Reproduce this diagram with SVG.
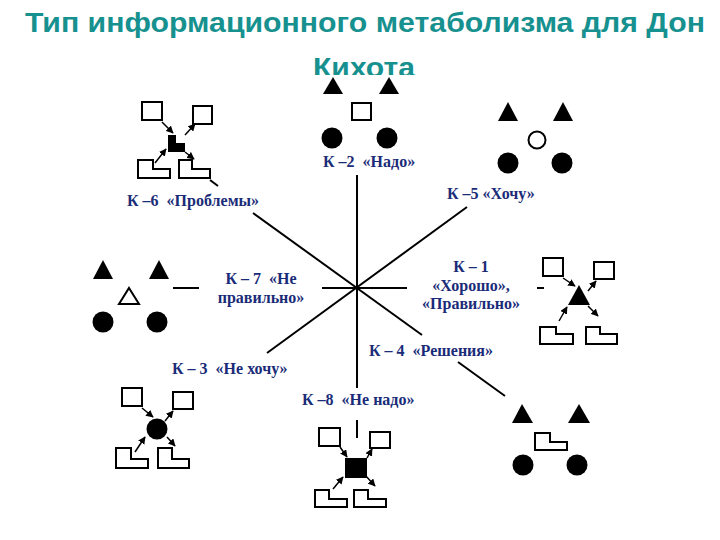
<svg xmlns="http://www.w3.org/2000/svg" width="720" height="540" viewBox="0 0 720 540">
<style>
.title{font-family:"Liberation Sans",Arial,sans-serif;font-weight:bold;font-size:28px;fill:#17918f}
.lbl{font-family:"Liberation Serif","Times New Roman",serif;font-weight:bold;font-size:16px;fill:#1a2c78;white-space:pre}
.ln{stroke:#000;stroke-width:2;fill:none}
.arr{stroke:#000;stroke-width:1.5;fill:none;marker-end:url(#ah)}
.o{fill:#fff;stroke:#000;stroke-width:2}
.f{fill:#000}
</style>
<defs>
<marker id="ah" viewBox="0 0 10 10" refX="9" refY="5" markerWidth="5" markerHeight="5" orient="auto"><path d="M0,0 L10,5 L0,10 z" fill="#000"/></marker>
<clipPath id="cut"><rect x="0" y="0" width="720" height="75"/></clipPath>
</defs>
<rect width="720" height="540" fill="#fff"/>
<g id="title">
<text class="title" x="365" y="32" text-anchor="middle" textLength="680" lengthAdjust="spacingAndGlyphs">Тип информационного метаболизма для Дон</text>
<text class="title" x="364" y="77" text-anchor="middle" textLength="102" lengthAdjust="spacingAndGlyphs" clip-path="url(#cut)">Кихота</text>
</g>
<g id="connectors">
<line class="ln" x1="357" y1="175" x2="357" y2="388"/>
<line class="ln" x1="322" y1="288" x2="407" y2="288"/>
<line class="ln" x1="267" y1="353" x2="467" y2="207"/>
<line class="ln" x1="253" y1="213" x2="422" y2="335"/>
<line class="ln" x1="458" y1="362" x2="505" y2="396"/>
<line class="ln" x1="210" y1="180" x2="218" y2="186"/>
<line class="ln" x1="173" y1="288" x2="199" y2="288"/>
<line class="ln" x1="537" y1="288" x2="544" y2="288"/>
<line class="ln" x1="357" y1="420" x2="357" y2="438"/>
</g>
<g id="labels">
<text class="lbl" x="323" y="167">К –2  «Надо»</text>
<text class="lbl" x="127" y="206">К –6  «Проблемы»</text>
<text class="lbl" x="447" y="199">К –5 «Хочу»</text>
<text class="lbl" x="261" y="284" text-anchor="middle">К – 7  «Не</text>
<text class="lbl" x="261" y="303" text-anchor="middle">правильно»</text>
<text class="lbl" x="471" y="272" text-anchor="middle">К – 1</text>
<text class="lbl" x="471" y="291" text-anchor="middle">«Хорошо»,</text>
<text class="lbl" x="471" y="309" text-anchor="middle">«Правильно»</text>
<text class="lbl" x="369" y="356">К – 4  «Решения»</text>
<text class="lbl" x="172" y="374">К – 3  «Не хочу»</text>
<text class="lbl" x="302" y="405">К –8  «Не надо»</text>
</g>
<g id="k6">
<rect class="o" x="142" y="102" width="20" height="18"/>
<rect class="o" x="193" y="106" width="19" height="18"/>
<path class="f" d="M168,135 H176 V143 H185 V152 H168 Z"/>
<path class="o" d="M138,160 H153 V169 H170 V178 H138 Z"/>
<path class="o" d="M179,160 H192 V169 H210 V178 H179 Z"/>
<line class="arr" x1="162" y1="122" x2="173" y2="133"/>
<line class="arr" x1="185" y1="135" x2="195" y2="124"/>
<line class="arr" x1="155" y1="163" x2="166" y2="149"/>
<line class="arr" x1="185" y1="152" x2="194" y2="159"/>
</g>
<g id="k2">
<path class="f" d="M333,77 L343,94 L323,94 Z"/>
<path class="f" d="M389,77 L399,94 L379,94 Z"/>
<rect class="o" x="352" y="103" width="19" height="17"/>
<circle class="f" cx="332" cy="138" r="10.5"/>
<circle class="f" cx="387" cy="138" r="10.5"/>
</g>
<g id="k5">
<path class="f" d="M508,102 L518,121 L498,121 Z"/>
<path class="f" d="M563,102 L573,121 L553,121 Z"/>
<circle class="o" cx="537" cy="140" r="8.5"/>
<circle class="f" cx="508" cy="163" r="10.5"/>
<circle class="f" cx="562" cy="163" r="10.5"/>
</g>
<g id="k7">
<path class="f" d="M103,260 L113,279 L93,279 Z"/>
<path class="f" d="M159,260 L169,279 L149,279 Z"/>
<path class="o" d="M129,288 L139,304 L119,304 Z"/>
<circle class="f" cx="103" cy="322" r="10.5"/>
<circle class="f" cx="157" cy="322" r="10.5"/>
</g>
<g id="k1">
<rect class="o" x="543" y="258" width="20" height="18"/>
<rect class="o" x="594" y="262" width="20" height="17"/>
<path class="f" d="M579,285 L590,305 L568,305 Z"/>
<path class="o" d="M540,327 H556 V334 H573 V344 H540 Z"/>
<path class="o" d="M586,327 H600 V334 H617 V344 H586 Z"/>
<line class="arr" x1="563" y1="278" x2="575" y2="286"/>
<line class="arr" x1="588" y1="291" x2="596" y2="281"/>
<line class="arr" x1="559" y1="321" x2="567" y2="307"/>
<line class="arr" x1="588" y1="306" x2="598" y2="316"/>
</g>
<g id="k3">
<rect class="o" x="122" y="388" width="20" height="18"/>
<rect class="o" x="173" y="392" width="20" height="17"/>
<circle class="f" cx="157" cy="429" r="10.5"/>
<path class="o" d="M116,448 H131 V459 H148 V468 H116 Z"/>
<path class="o" d="M158,448 H172 V459 H189 V468 H158 Z"/>
<line class="arr" x1="142" y1="408" x2="153" y2="417"/>
<line class="arr" x1="165" y1="421" x2="173" y2="411"/>
<line class="arr" x1="135" y1="452" x2="145" y2="437"/>
<line class="arr" x1="167" y1="437" x2="175" y2="446"/>
</g>
<g id="k8">
<rect class="o" x="319" y="428" width="21" height="18"/>
<rect class="o" x="370" y="432" width="20" height="16"/>
<rect class="f" x="345" y="458" width="22" height="20"/>
<path class="o" d="M315,490 H329 V499 H347 V507 H315 Z"/>
<path class="o" d="M354,490 H368 V499 H386 V507 H354 Z"/>
<line class="arr" x1="340" y1="447" x2="347" y2="457"/>
<line class="arr" x1="367" y1="458" x2="372" y2="449"/>
<line class="arr" x1="333" y1="489" x2="343" y2="477"/>
<line class="arr" x1="365" y1="475" x2="375" y2="486"/>
</g>
<g id="k4">
<path class="f" d="M522,404 L533,423 L512,423 Z"/>
<path class="f" d="M579,404 L590,423 L568,423 Z"/>
<path class="o" d="M535,433 H550 V442 H567 V450 H535 Z"/>
<circle class="f" cx="523" cy="465" r="10.5"/>
<circle class="f" cx="577" cy="465" r="10.5"/>
</g>
</svg>
